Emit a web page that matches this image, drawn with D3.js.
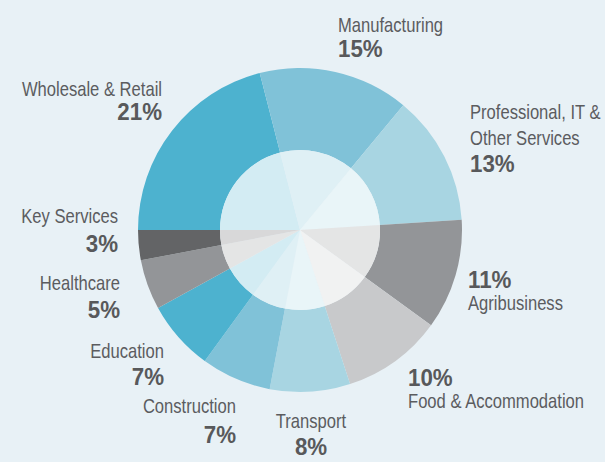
<!DOCTYPE html>
<html>
<head>
<meta charset="utf-8">
<script src="https://cdn.jsdelivr.net/npm/d3@7"></script>
<style>
  html, body { margin: 0; padding: 0; background: #e8f1f6; }
  svg { display: block; }
  .name { font-family: "Liberation Sans", Arial, sans-serif; font-size: 20px; fill: #5b5c5f; }
  .pct { font-family: "Liberation Sans", Arial, sans-serif; font-size: 24px; font-weight: bold; fill: #58595b; }
</style>
</head>
<body>
<svg id="chart" width="605" height="462"></svg>
<script>
// sectors, clockwise starting at 9 o'clock
let sectors = ['Wholesale & Retail', 'Manufacturing', 'Professional, IT & Other Services', 'Agribusiness',
    'Food & Accommodation', 'Transport', 'Construction', 'Education', 'Healthcare', 'Key Services'];
let shares = [21, 15, 13, 11, 10, 8, 7, 7, 5, 3];
let colours = ['#4db2cf', '#80c2d8', '#a8d5e2', '#939598', '#c8c9cb',
    '#a8d5e2', '#80c2d8', '#4db2cf', '#939598', '#636466'];

// label layout: x, anchor, baseline of name line(s), baseline of percentage
let labelLayout = [
    {x: 162, anchor: 'end', name: [96], pct: 120},
    {x: 338, anchor: 'start', name: [32], pct: 57},
    {x: 470, anchor: 'start', name: [119, 145], pct: 172, lines: ['Professional, IT &', 'Other Services']},
    {x: 468, anchor: 'start', name: [310], pct: 288},
    {x: 408, anchor: 'start', name: [408], pct: 386},
    {x: 311, anchor: 'middle', name: [428], pct: 455},
    {x: 236, anchor: 'end', name: [413], pct: 443},
    {x: 164, anchor: 'end', name: [358], pct: 385},
    {x: 120, anchor: 'end', name: [290], pct: 318},
    {x: 118, anchor: 'end', name: [223], pct: 252}
];

let cx = 300, cy = 230, outerR = 162, innerR = 80;
let svg = d3.select('#chart');

let slices = d3.pie()
    .sort(null)
    .value(d => d)
    .startAngle(-Math.PI / 2)
    .endAngle(1.5 * Math.PI)(shares);

let g = svg.append('g').attr('transform', `translate(${cx},${cy})`);

// outer ring
g.selectAll('path.outer')
    .data(slices)
    .join('path')
    .attr('class', 'outer')
    .attr('d', d3.arc().innerRadius(innerR).outerRadius(outerR))
    .attr('fill', (d, i) => colours[i]);

// pale inner pie
g.selectAll('path.inner')
    .data(slices)
    .join('path')
    .attr('class', 'inner')
    .attr('d', d3.arc().innerRadius(0).outerRadius(innerR))
    .attr('fill', (d, i) => d3.interpolateRgb(colours[i], '#ffffff')(0.75));

// labels
let labels = svg.selectAll('g.label')
    .data(sectors)
    .join('g')
    .attr('class', 'label');

labels.each(function(name, i) {
    let lay = labelLayout[i];
    let el = d3.select(this);
    let lines = lay.lines || [name];
    lines.forEach((t, k) => {
        el.append('text')
            .attr('class', 'name')
            .attr('text-anchor', lay.anchor)
            .attr('transform', `translate(${lay.x},${lay.name[k]}) scale(0.83,1)`)
            .text(t);
    });
    el.append('text')
        .attr('class', 'pct')
        .attr('text-anchor', lay.anchor)
        .attr('transform', `translate(${lay.x},${lay.pct}) scale(0.93,1)`)
        .text(shares[i] + '%');
});
</script>
</body>
</html>
